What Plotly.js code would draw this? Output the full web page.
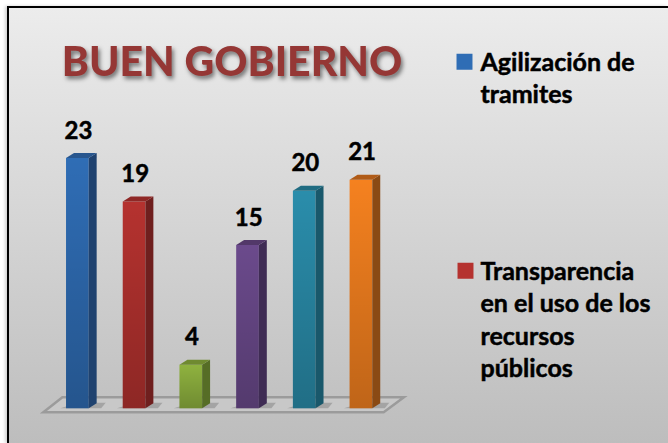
<!DOCTYPE html>
<html><head><meta charset="utf-8">
<script src="https://cdn.plot.ly/plotly-3.0.1.min.js"></script>
<style>
html,body{margin:0;padding:0;background:#fff;overflow:hidden}
#bg{position:absolute;left:9px;top:8px;width:659px;height:435px;border-left:2px solid #000;border-top:2px solid #000;margin-left:-2px;margin-top:-2px;background:linear-gradient(#ececec,#bdbdbd);box-shadow:-2px 0 3px rgba(0,0,0,.18)}
#chart{position:absolute;left:0;top:0;width:668px;height:443px}
.gtitle{filter:drop-shadow(2px 3px 2px rgba(0,0,0,.5))}
.legendtext,.textpoint text{stroke:#000;stroke-width:.5px}
</style></head><body>
<div id="bg"></div><div id="chart"></div>
<script>
const categories = ['Agilización de<br>tramites','Transparencia<br>en el uso de los<br>recursos<br>públicos','Serie 3','Serie 4','Serie 5','Serie 6'];
const values = [23,19,4,15,20,21];
const frontColors = ['#2f6db5','#b5322f','#8fb23f','#6b4a8c','#2a8dab','#f5811f'];
const sideColors  = ['#1f426f','#6f1f1e','#566d26','#3f2c54','#19586b','#8a4a14'];
const topColors   = ['#28568e','#8f2826','#6f8a30','#523869','#206c82','#b05b17'];

const barW = 0.4, dx = 0.14, dy = 0.46;
const traces = [];
values.forEach((v,i)=>{
  traces.push({type:'bar',x:[i],y:[v],width:barW,name:categories[i],showlegend:i<2,legendgroup:'g'+i,
    marker:{color:frontColors[i],line:{width:0}},hoverinfo:'name+y',cliponaxis:false});
});
values.forEach((v,i)=>{
  const l=i-barW/2,r=i+barW/2;
  traces.push({type:'scatter',mode:'none',x:[r,r+dx,r+dx,r,r],y:[0,dy,v+dy,v,0],fill:'toself',fillcolor:sideColors[i],showlegend:false,hoverinfo:'skip',cliponaxis:false});
  traces.push({type:'scatter',mode:'none',x:[l,l+dx,r+dx,r,l],y:[v,v+dy,v+dy,v,v],fill:'toself',fillcolor:topColors[i],showlegend:false,hoverinfo:'skip',cliponaxis:false});
  traces.push({type:'scatter',mode:'none',x:[l,r,r,l,l],y:[0,0,v,v,0],fill:'toself',
    fillgradient:{type:'vertical',colorscale:[[0,'rgba(0,0,0,0.22)'],[1,'rgba(0,0,0,0)']]},
    showlegend:false,hoverinfo:'skip',cliponaxis:false});
});
traces.push({type:'scatter',mode:'text',x:values.map((v,i)=>i+0.02),y:values.map(v=>v+2.35),text:values.map(String),
  textposition:'middle center',textfont:{family:'Lato',size:24,color:'#000',weight:700},showlegend:false,hoverinfo:'skip',cliponaxis:false});

const floor = {type:'path',xref:'x',yref:'y',layer:'below',
  path:'M -0.6 -0.37 L 5.4 -0.37 L 5.757 1.01 L -0.264 1.01 Z',
  line:{color:'#9b9b9b',width:2.5},fillcolor:'rgba(205,205,205,0.55)'};
const shadows = values.map((v,i)=>({type:'path',xref:'x',yref:'y',layer:'below',
  path:`M ${i-barW/2-0.1} 0 L ${i+barW/2+0.22} 0 L ${i+barW/2+0.3} 0.5 L ${i+barW/2+0.14} 0.5 L ${i-barW/2} 0.15 Z`,
  line:{width:0},fillcolor:'rgba(90,90,90,0.32)'}));

const layout = {
  width:668,height:443,paper_bgcolor:'rgba(0,0,0,0)',plot_bgcolor:'rgba(0,0,0,0)',
  margin:{l:31.56,r:255.9,t:81.9,b:24.13,pad:0},
  title:{text:'BUEN GOBIERNO',font:{family:'Lato',size:41,color:'#953735',weight:900},x:232/668,xanchor:'center',y:1-62/443,yanchor:'middle'},
  xaxis:{range:[-0.8,5.9],visible:false,fixedrange:true},
  yaxis:{range:[-1,30],visible:false,fixedrange:true},
  showlegend:true,
  legend:{x:1.075,xanchor:'left',y:1.13,yanchor:'top',traceorder:'grouped',tracegroupgap:141,maxheight:420,
    bgcolor:'rgba(0,0,0,0)',font:{family:'Lato',size:25,color:'#000',weight:700},itemwidth:30,itemclick:false,itemdoubleclick:false},
  shapes:[floor,...shadows]
};
Plotly.newPlot('chart',traces,layout,{displayModeBar:false,staticPlot:true}).then(()=>{
  document.querySelectorAll('#chart .legend .traces').forEach(g=>{
    const p=g.querySelector('.legendpoints path'), t=g.querySelector('.legendtext');
    if(!p||!t) return;
    const pr=p.getBoundingClientRect(), tr=t.getBoundingClientRect();
    const dX=(tr.left-15)-(pr.left+pr.width/2), dY=(tr.top+16)-(pr.top+pr.height/2);
    const old=p.getAttribute('transform')||'';
    p.setAttribute('transform',`translate(${dX},${dY}) ${old} scale(1.33)`);
  });
});
</script></body></html>
